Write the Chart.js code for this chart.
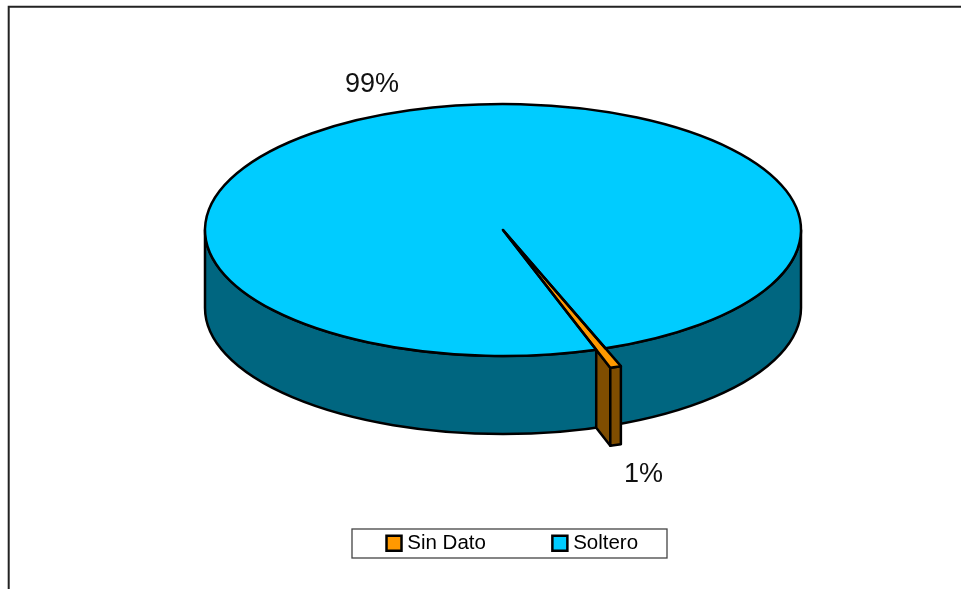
<!DOCTYPE html>
<html>
<head>
<meta charset="utf-8">
<style>
html,body{margin:0;padding:0;background:#fff}
#wrap{width:961px;height:589px;overflow:hidden}
canvas{display:block}
</style>
<script src="https://cdn.jsdelivr.net/npm/chart.js@4/dist/chart.umd.min.js"></script>
</head>
<body>
<div id="wrap"><canvas id="c" width="961" height="589"></canvas></div>
<script>
const categories = ['Sin Dato', 'Soltero'];
const values = [0.52, 99.48];
const topColors = ['#FF9900', '#00CCFF'];
const sideColors = ['#7F4D00', '#006680'];

const FONT = '"Liberation Sans", Arial, sans-serif';
const CX = 503, CY = 230, RADIUS = 298, TILT = 0.4228, DEPTH = 78;
const SLICE_RADIUS = 343;
const START_DEG = 159.9;
const LINE = 2.5;
const PERCENT_POS = [[624, 482], [345, 92]];

function outlined(ctx, fill, build) {
  ctx.beginPath();
  build();
  ctx.closePath();
  ctx.fillStyle = fill;
  ctx.fill();
  ctx.lineWidth = LINE;
  ctx.lineJoin = 'round';
  ctx.strokeStyle = '#000';
  ctx.stroke();
}

const pie3d = {
  id: 'pie3d',
  beforeDraw(chart) {
    const ctx = chart.ctx;
    ctx.save();
    ctx.fillStyle = '#fff';
    ctx.fillRect(0, 0, chart.width, chart.height);
    ctx.strokeStyle = '#222';
    ctx.lineWidth = 2;
    ctx.beginPath();
    ctx.moveTo(8.7, chart.height);
    ctx.lineTo(8.7, 6.8);
    ctx.lineTo(chart.width, 6.8);
    ctx.stroke();
    ctx.strokeStyle = '#444';
    ctx.lineWidth = 1.3;
    ctx.strokeRect(352, 529, 315, 29);
    ctx.restore();
  },
  afterLayout(chart) {
    const lg = chart.legend;
    const pad = lg.options.labels.padding;
    lg.left = 391 - pad;
    lg.right = chart.width + 200;
    lg.top = 533 - pad;
  },
  afterDatasetUpdate(chart, args) {
    chart.getDatasetMeta(args.index).data[0].outerRadius = SLICE_RADIUS;
  },
  beforeDatasetsDraw(chart) {
    const ctx = chart.ctx;
    const arcs = chart.getDatasetMeta(0).data;
    const big = arcs[1], small = arcs[0];
    const rx = big.outerRadius, ry = rx * TILT;
    // wall of the large slice
    ctx.save();
    outlined(ctx, sideColors[1], () => {
      ctx.ellipse(CX, CY, rx, ry, 0, 0, Math.PI);
      ctx.ellipse(CX, CY + DEPTH, rx, ry, 0, Math.PI, 0, true);
    });
    // walls of the small slice
    const sr = small.outerRadius, a0 = small.startAngle, a1 = small.endAngle;
    const rimX = CX + rx * Math.cos(a1), rimY = CY + ry * Math.sin(a1);
    const p1X = CX + sr * Math.cos(a1), p1Y = CY + sr * TILT * Math.sin(a1);
    outlined(ctx, sideColors[0], () => {
      ctx.moveTo(rimX, rimY);
      ctx.lineTo(p1X, p1Y);
      ctx.lineTo(p1X, p1Y + DEPTH);
      ctx.lineTo(rimX, rimY + DEPTH);
    });
    outlined(ctx, sideColors[0], () => {
      ctx.ellipse(CX, CY, sr, sr * TILT, 0, a0, a1);
      ctx.ellipse(CX, CY + DEPTH, sr, sr * TILT, 0, a1, a0, true);
    });
    ctx.restore();
    // flatten the library's arcs
    ctx.save();
    ctx.translate(CX, CY);
    ctx.scale(1, TILT);
    ctx.translate(-big.x, -big.y);
  },
  afterDatasetsDraw(chart) {
    const ctx = chart.ctx;
    ctx.restore();
    const arcs = chart.getDatasetMeta(0).data;
    ctx.save();
    [1, 0].forEach(i => {
      const a = arcs[i];
      ctx.beginPath();
      ctx.moveTo(CX, CY);
      ctx.ellipse(CX, CY, a.outerRadius, a.outerRadius * TILT, 0, a.startAngle, a.endAngle);
      ctx.closePath();
      ctx.lineWidth = LINE;
      ctx.lineJoin = 'round';
      ctx.strokeStyle = '#000';
      ctx.stroke();
    });
    const total = values.reduce((s, v) => s + v, 0);
    ctx.fillStyle = '#111';
    ctx.font = '27px ' + FONT;
    ctx.textAlign = 'left';
    ctx.textBaseline = 'alphabetic';
    values.forEach((v, i) => {
      ctx.fillText(Math.round(v / total * 100) + '%', PERCENT_POS[i][0], PERCENT_POS[i][1]);
    });
    ctx.restore();
  }
};

new Chart(document.getElementById('c'), {
  type: 'pie',
  data: {
    labels: categories,
    datasets: [{
      data: values,
      backgroundColor: topColors,
      borderWidth: 0,
      clip: false
    }]
  },
  options: {
    responsive: false,
    animation: false,
    devicePixelRatio: 1,
    events: [],
    rotation: START_DEG,
    radius: RADIUS,
    plugins: {
      tooltip: { enabled: false },
      legend: {
        display: true,
        position: 'bottom',
        align: 'start',
        labels: {
          usePointStyle: true,
          pointStyle: 'rect',
          boxWidth: 6,
          boxHeight: 15,
          padding: 71,
          color: '#000',
          font: { family: FONT, size: 20.5 },
          generateLabels(chart) {
            return Chart.overrides.pie.plugins.legend.labels.generateLabels(chart)
              .map(it => Object.assign(it, { strokeStyle: '#000', lineWidth: 2.5, pointStyle: 'rect' }));
          }
        }
      }
    }
  },
  plugins: [pie3d]
});
</script>
</body>
</html>
